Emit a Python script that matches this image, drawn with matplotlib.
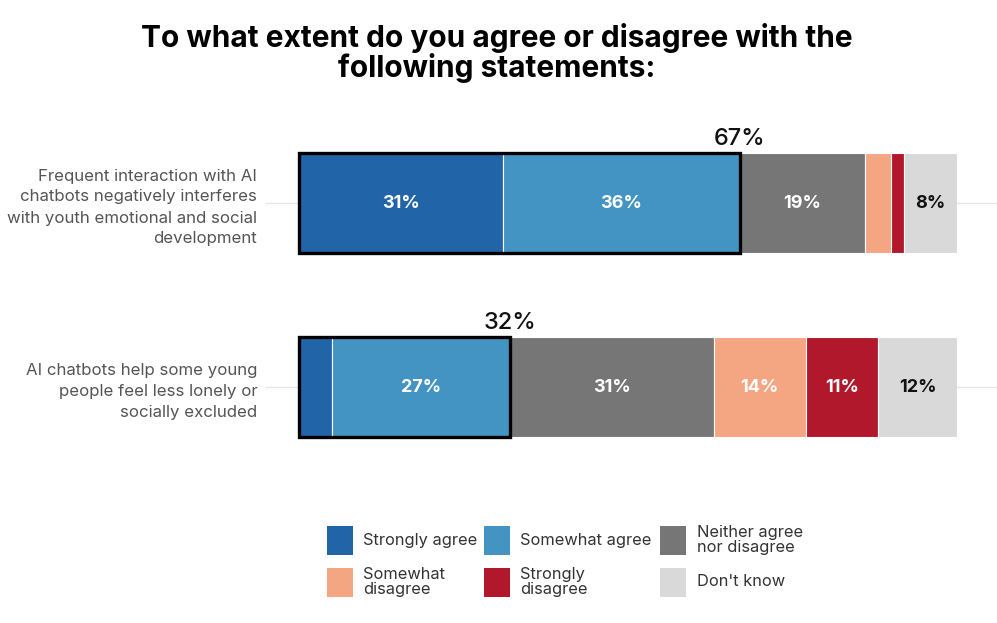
import numpy as np
import matplotlib.pyplot as plt
from matplotlib.patches import Rectangle

# ---------------------------------- data ----------------------------------
statements = [
    "Frequent interaction with AI\nchatbots negatively interferes\nwith youth emotional and social\ndevelopment",
    "AI chatbots help some young\npeople feel less lonely or\nsocially excluded",
]
categories = ["Strongly agree", "Somewhat agree", "Neither agree\nnor disagree",
              "Somewhat\ndisagree", "Strongly\ndisagree", "Don't know"]
strongly_agree = [31, 5]
somewhat_agree = [36, 27]
neither = [19, 31]
somewhat_disagree = [4, 14]
strongly_disagree = [2, 11]
dont_know = [8, 12]
labels_shown = [
    ["31%", "36%", "19%", "", "", "8%"],
    ["", "27%", "31%", "14%", "11%", "12%"],
]
agree_total = [67, 32]

colors = ["#2264A8", "#4393C3", "#767676", "#F4A582", "#B2182B", "#D9D9D9"]
text_colors = ["white", "white", "white", "white", "white", "#111111"]

plt.rcParams['font.family'] = ['Inter', 'DejaVu Sans']

fig = plt.figure(figsize=(9.97, 6.23), dpi=100)
W, H = 997, 623
# axes box in pixels: x 299..957, y 120..470
ax = fig.add_axes([299 / W, 1 - 470 / H, (957 - 299) / W, 350 / H])

series = [strongly_agree, somewhat_agree, neither, somewhat_disagree,
          strongly_disagree, dont_know]
y = np.arange(len(statements))
bar_h = 100 / 184
left = np.zeros(len(statements))
for k, vals in enumerate(series):
    vals = np.array(vals, dtype=float)
    ax.barh(y, vals, left=left, height=bar_h, color=colors[k],
            edgecolor="white", linewidth=0.8)
    for i in range(len(y)):
        txt = labels_shown[i][k]
        if txt:
            ax.text(left[i] + vals[i] / 2, y[i], txt, ha="center", va="center",
                    color=text_colors[k], fontsize=13, fontweight="bold")
    left += vals

# black outline for total agree
for i in range(len(y)):
    ax.add_patch(Rectangle((0, y[i] - bar_h / 2), agree_total[i], bar_h,
                           fill=False, edgecolor="black", linewidth=2.4,
                           zorder=5, clip_on=False))
    ax.text(agree_total[i], y[i] - bar_h / 2 - 0.015, f"{agree_total[i]}%",
            ha="center", va="bottom", fontsize=17, fontweight="medium",
            color="#111111")

# faint category lines
for i in range(len(y)):
    ax.plot([-5, 0], [y[i], y[i]], color="#e6e6e6", lw=1, clip_on=False, zorder=0)
    ax.plot([100, 106], [y[i], y[i]], color="#e6e6e6", lw=1, clip_on=False, zorder=0)

ax.set_xlim(0, 100)
ax.set_ylim(1 + (470 - 387) / 184, -(203 - 120) / 184)
ax.set_yticks(y)
ax.set_yticklabels(statements, fontsize=12.1, color="#555555", linespacing=1.5)
ax.tick_params(axis="y", length=0, pad=30)
ax.set_xticks([])
for s in ax.spines.values():
    s.set_visible(False)

fig.text(0.498, 1 - 53 / H, "To what extent do you agree or disagree with the\nfollowing statements:",
         ha="center", va="center", fontsize=21.5, fontweight="bold", color="black",
         linespacing=1.0)

# legend drawn by hand: 2 rows x 3 columns (pixel layout)
box_x = [327, 484, 660]
text_x = [363, 520, 697]
row_y = [540, 582]
bw, bh = 26, 29
for k, name in enumerate(categories):
    r, c = divmod(k, 3)
    fig.patches.append(Rectangle((box_x[c] / W, 1 - (row_y[r] + bh / 2) / H),
                                 bw / W, bh / H, transform=fig.transFigure,
                                 facecolor=colors[k], edgecolor="none"))
    fig.text(text_x[c] / W, 1 - row_y[r] / H, name, ha="left", va="center",
             fontsize=11.8, color="#333333", linespacing=1.0)

fig.savefig("out.png", dpi=100)
